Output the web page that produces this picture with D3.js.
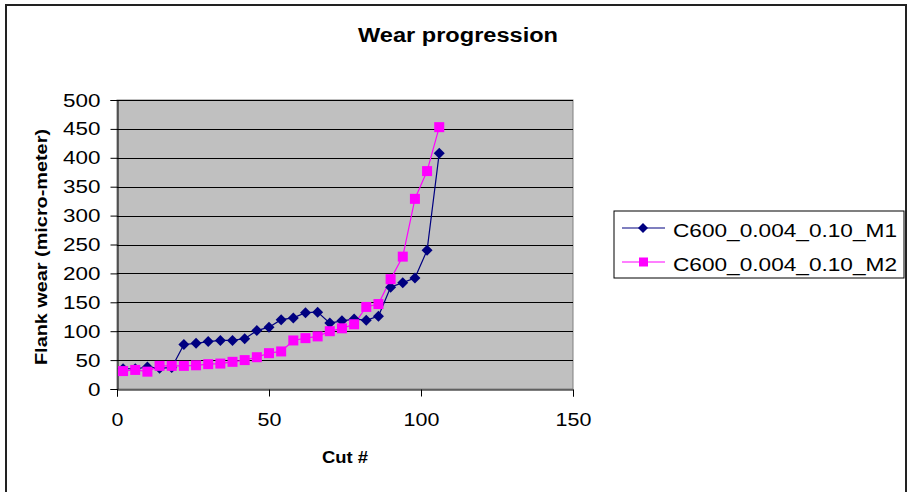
<!DOCTYPE html>
<html>
<head>
<meta charset="utf-8">
<script src="https://cdn.jsdelivr.net/npm/d3@7"></script>
<style>
  html, body { margin: 0; padding: 0; background: #fff; }
  svg { display: block; font-family: "Liberation Sans", Arial, sans-serif; }
</style>
</head>
<body>
<svg id="chart" width="909" height="492"></svg>
<script>
// Cut numbers at which flank wear was measured
const cuts = [2, 6, 10, 14, 18, 22, 26, 30, 34, 38, 42, 46, 50, 54, 58, 62, 66, 70, 74, 78, 82, 86, 90, 94, 98, 102, 106];
// Flank wear (micro-meter) per series
const wearM1 = [35, 35, 38, 36, 37, 77, 79, 82, 84, 84, 87, 101, 107, 120, 123, 132, 133, 114, 118, 121, 119, 126, 176, 184, 192, 240, 408];
const wearM2 = [31, 33, 30, 40, 40, 40, 41, 43, 44, 47, 50, 55, 62, 65, 84, 88, 91, 100, 105, 112, 142, 147, 190, 229, 329, 377, 453];
const seriesNames = ["C600_0.004_0.10_M1", "C600_0.004_0.10_M2"];
const seriesColors = ["#000080", "#FF00FF"];
const xTicks = [0, 50, 100, 150];
const yTicks = [0, 50, 100, 150, 200, 250, 300, 350, 400, 450, 500];

const svg = d3.select("#chart");
const plot = { left: 117, right: 573, top: 100, bottom: 389 };

const x = d3.scaleLinear().domain([0, 150]).range([plot.left, plot.right]);
const y = d3.scaleLinear().domain([0, 500]).range([plot.bottom, plot.top]);

// Stretch a text element along its direction
function stretch(sel, factor, target) {
  sel.each(function () {
    const w = this.getComputedTextLength();
    const len = target || w * factor;
    this.setAttribute("textLength", len);
    this.setAttribute("lengthAdjust", "spacingAndGlyphs");
  });
}

// Chart-area frame
svg.append("rect")
  .attr("x", 6).attr("y", 5).attr("width", 900).attr("height", 500)
  .attr("fill", "#fff").attr("stroke", "#222").attr("stroke-width", 2);

// Plot area
svg.append("rect")
  .attr("x", plot.left).attr("y", plot.top)
  .attr("width", plot.right - plot.left).attr("height", plot.bottom - plot.top)
  .attr("fill", "#C0C0C0").attr("stroke", "#808080").attr("stroke-width", 1);

// Horizontal gridlines
svg.append("g")
  .selectAll("line")
  .data(yTicks.filter(d => d > 0))
  .join("line")
  .attr("x1", plot.left).attr("x2", plot.right)
  .attr("y1", d => Math.round(y(d)) + 0.5).attr("y2", d => Math.round(y(d)) + 0.5)
  .attr("stroke", "#000").attr("stroke-width", 1);

// Axes
const xAxis = svg.append("g")
  .attr("transform", `translate(0,${plot.bottom + 0.5})`)
  .call(d3.axisBottom(x).tickValues(xTicks).tickSize(7).tickPadding(16).tickFormat(d3.format("d")));
const yAxis = svg.append("g")
  .attr("transform", `translate(${plot.left + 0.5},0)`)
  .call(d3.axisLeft(y).tickValues(yTicks).tickSize(7).tickPadding(10).tickFormat(d3.format("d")));

[xAxis, yAxis].forEach(a => {
  a.select(".domain").attr("stroke", "#000").attr("stroke-width", 1);
  a.selectAll(".tick line").attr("stroke", "#000");
  a.selectAll(".tick text")
    .attr("font-family", "Liberation Sans, Arial, sans-serif")
    .attr("font-size", 19).attr("fill", "#000");
});
stretch(xAxis.selectAll(".tick text"), 1.13);
stretch(yAxis.selectAll(".tick text"), 1.18);

// Series lines and markers
const line = d3.line().x((d, i) => x(cuts[i])).y(d => y(d));
const allSeries = [wearM1, wearM2];

allSeries.forEach((vals, s) => {
  svg.append("path")
    .datum(vals)
    .attr("d", line)
    .attr("fill", "none")
    .attr("stroke", seriesColors[s])
    .attr("stroke-width", 1.2);
});

function diamondPath(cx, cy, r) {
  return `M${cx},${cy - r}L${cx + r},${cy}L${cx},${cy + r}L${cx - r},${cy}Z`;
}

svg.append("g")
  .selectAll("path")
  .data(wearM1)
  .join("path")
  .attr("d", (d, i) => diamondPath(x(cuts[i]), y(d), 5.5))
  .attr("fill", seriesColors[0]);

svg.append("g")
  .selectAll("rect")
  .data(wearM2)
  .join("rect")
  .attr("x", (d, i) => x(cuts[i]) - 5)
  .attr("y", d => y(d) - 5)
  .attr("width", 10).attr("height", 10)
  .attr("fill", seriesColors[1]);

// Title
const title = svg.append("text")
  .attr("x", 458).attr("y", 42)
  .attr("text-anchor", "middle")
  .attr("font-size", 20).attr("font-weight", "bold")
  .text("Wear progression");
stretch(title, 1, 200);

// Axis titles
const xTitle = svg.append("text")
  .attr("x", 345).attr("y", 463)
  .attr("text-anchor", "middle")
  .attr("font-size", 17).attr("font-weight", "bold")
  .text("Cut #");
stretch(xTitle, 1, 46);

const yTitle = svg.append("text")
  .attr("transform", "translate(47,247) rotate(-90)")
  .attr("text-anchor", "middle")
  .attr("font-size", 17).attr("font-weight", "bold")
  .text("Flank wear (micro-meter)");
stretch(yTitle, 1, 236);

// Legend
const legend = svg.append("g");
legend.append("rect")
  .attr("x", 614).attr("y", 211).attr("width", 290).attr("height", 67)
  .attr("fill", "#fff").attr("stroke", "#000").attr("stroke-width", 1);

const rowY = [228, 262];
seriesNames.forEach((name, s) => {
  const g = legend.append("g");
  g.append("line")
    .attr("x1", 622).attr("x2", 665)
    .attr("y1", rowY[s]).attr("y2", rowY[s])
    .attr("stroke", seriesColors[s]).attr("stroke-width", 1.2);
  if (s === 0) {
    g.append("path").attr("d", diamondPath(643, rowY[s], 5)).attr("fill", seriesColors[s]);
  } else {
    g.append("rect").attr("x", 639).attr("y", rowY[s] - 4.5).attr("width", 9).attr("height", 9)
      .attr("fill", seriesColors[s]);
  }
  const t = g.append("text")
    .attr("x", 673).attr("y", rowY[s] + 9)
    .attr("font-size", 18.5)
    .text(name);
  stretch(t, 1, 224);
});
</script>
</body>
</html>
